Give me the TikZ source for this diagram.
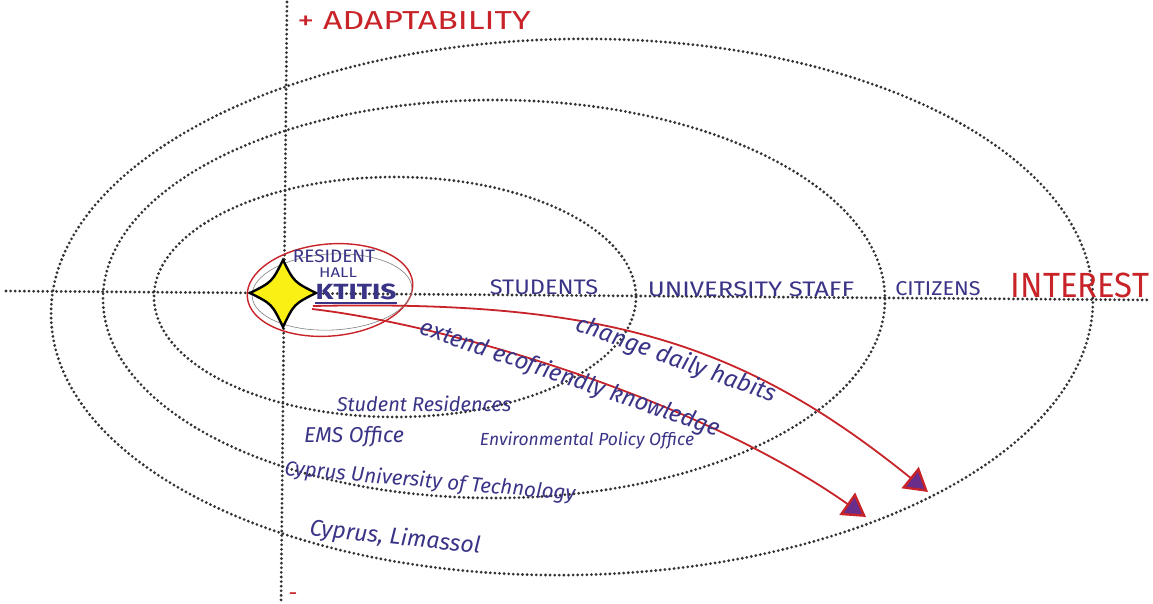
\documentclass[tikz,border=0pt]{standalone}
\usepackage{fontspec}
\setmainfont{Fira Sans}
\usetikzlibrary{arrows.meta}
\definecolor{axred}{RGB}{200,35,40}
\definecolor{inkblue}{RGB}{58,52,135}
\definecolor{tipfill}{RGB}{105,45,140}
\definecolor{starfill}{RGB}{250,240,20}
\tikzset{
  dotline/.style={line width=3.1pt, dash pattern=on 0pt off 4.6pt, line cap=round, black!80},
  redlabel/.style={text=axred, inner sep=0pt, anchor=center},
  ink/.style={text=inkblue, inner sep=0pt, anchor=center},
  capsink/.style={text=inkblue, inner sep=0pt, anchor=center},
  redarrow/.style={draw=axred, line width=1.8pt, -{Triangle[width=27pt,length=23pt,fill=tipfill,line width=2.4pt]}}
}
\begin{document}
\begin{tikzpicture}[x=1pt,y=-1pt]
\useasboundingbox (0,0) rectangle (1153,604);
\fill[white] (0,0) rectangle (1153,604);
% rings
\draw[dotline, rotate around={1:(572,307)}] (572,307) ellipse [x radius=521, y radius=268];
\draw[dotline] (494,299) ellipse [x radius=391, y radius=199];
\draw[dotline] (395,297) ellipse [x radius=241, y radius=120];
% axes
\coordinate (vtop) at (287,2);
\coordinate (vbot) at (281,604);
\coordinate (hl) at (6,291);
\coordinate (hr) at (1150,300);
\draw[dotline] (vtop) -- (vbot);
\draw[dotline] (hl) -- (hr);
% axis labels
\node[redlabel, font=\fontsize{26}{27}\selectfont, xscale=1.3] (adapt) at (414,21) {+ ADAPTABILITY};
\node[redlabel, font=\fontsize{35}{36}\selectfont, xscale=0.94] (interest) at (1080,285) {INTEREST};
\node[text=axred, inner sep=0pt, anchor=base, font=\fontsize{22}{22}\selectfont] (minus) at (293,600) {-};
% ring labels
\node[capsink, font=\fontsize{21}{22}\selectfont, xscale=1.12] (students) at (544,287) {STUDENTS};
\node[capsink, font=\fontsize{21}{22}\selectfont, xscale=1.22] (staff) at (751,289) {UNIVERSITY STAFF};
\node[capsink, font=\fontsize{20}{21}\selectfont, xscale=1.08] (citizens) at (938,289) {CITIZENS};
% red ellipse and gray
\draw[axred, line width=1.4pt, rotate around={5:(330,290)}] (330,290) ellipse [x radius=83, y radius=46];
\draw[gray, line width=0.6pt, rotate around={3:(332,292)}] (332,292) ellipse [x radius=80, y radius=38];
% star
\node[inner sep=0pt, minimum size=2pt] (star) at (283,293) {};
\filldraw[fill=starfill, draw=black, line width=2.4pt]
  (283,260) .. controls (294,282) .. (316,293)
  .. controls (294,304) .. (283,327)
  .. controls (272,304) .. (250,293)
  .. controls (272,282) .. (283,260) -- cycle;
% labels for Ktitis
\node[capsink, font=\fontsize{18}{18}\selectfont, xscale=1.05] (resident) at (334,256) {RESIDENT};
\node[capsink, font=\fontsize{14}{14}\selectfont, xscale=1.2] (hall) at (338,273) {HALL};
\node[capsink, font=\bfseries\fontsize{22}{22}\selectfont, xscale=1.28] (ktitis) at (356,292) {KTITIS};
\draw[inkblue, line width=1.4pt] ([yshift=-3pt]ktitis.south west) -- ([yshift=-3pt]ktitis.south east);
% arrows
\coordinate (s1) at (313,306);
\coordinate (s2) at (312,309);
\coordinate (e1) at (928,492);
\coordinate (e2) at (866,517);
\draw[redarrow] (s1) .. controls (600,300) and (740,340) .. (e1);
\draw[redarrow] (s2) .. controls (450,325) and (700,400) .. (e2);
\node[ink, font=\itshape\fontsize{24}{24}\selectfont, rotate=-20] (habits) at (676,360) {change daily habits};
\node[ink, font=\itshape\fontsize{23.5}{23.5}\selectfont, rotate=-19] (extend) at (570,379) {extend ecofriendly knowledge};
% stakeholders
\node[ink, font=\itshape\fontsize{20}{20}\selectfont] (resid) at (424,404) {Student Residences};
\node[ink, font=\itshape\fontsize{21.5}{21.5}\selectfont] (ems) at (354,437) {EMS Office};
\node[ink, font=\itshape\fontsize{17.5}{17.5}\selectfont] (epo) at (587,441) {Environmental Policy Office};
\node[ink, font=\itshape\fontsize{20.5}{20.5}\selectfont, rotate=-5] (cut) at (430,482) {Cyprus University of Technology};
\node[ink, font=\itshape\fontsize{23}{23}\selectfont, rotate=-6] (lim) at (395,538) {Cyprus, Limassol};
\end{tikzpicture}
\end{document}
